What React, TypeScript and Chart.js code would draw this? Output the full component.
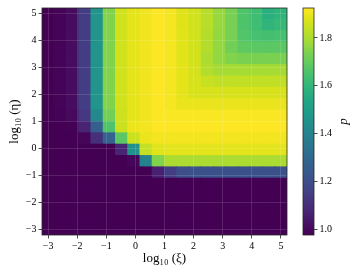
import React, { useEffect, useRef } from 'react';
import { Chart, registerables } from 'chart.js';

Chart.register(...registerables);

// ---- data ----
const xCenters = [-3, -2.579, -2.158, -1.737, -1.316, -0.895, -0.474, -0.053, 0.368, 0.789, 1.211, 1.632, 2.053, 2.474, 2.895, 3.316, 3.737, 4.158, 4.579, 5];
const yCenters = [-3, -2.579, -2.158, -1.737, -1.316, -0.895, -0.474, -0.053, 0.368, 0.789, 1.211, 1.632, 2.053, 2.474, 2.895, 3.316, 3.737, 4.158, 4.579, 5];
const halfCell = 0.2105;
const xTicks = [-3, -2, -1, 0, 1, 2, 3, 4, 5];
const yTicks = [-3, -2, -1, 0, 1, 2, 3, 4, 5];
const colorbarTicks = [1.0, 1.2, 1.4, 1.6, 1.8];
const pMin = 0.976;
const pMax = 1.925;

// rows from eta = -3 (bottom) to eta = 5 (top); columns xi = -3 .. 5
const row00 = [0.976, 0.976, 0.976, 0.976, 0.976, 0.976, 0.976, 0.976, 0.976, 0.976, 0.976, 0.976, 0.976, 0.976, 0.976, 0.976, 0.976, 0.976, 0.976, 0.976];
const row01 = [0.976, 0.976, 0.976, 0.976, 0.976, 0.976, 0.976, 0.976, 0.976, 0.976, 0.976, 0.976, 0.976, 0.976, 0.976, 0.976, 0.976, 0.976, 0.976, 0.976];
const row02 = [0.976, 0.976, 0.976, 0.976, 0.976, 0.976, 0.976, 0.976, 0.976, 0.976, 0.976, 0.976, 0.976, 0.976, 0.976, 0.976, 0.976, 0.976, 0.976, 0.976];
const row03 = [0.976, 0.976, 0.976, 0.976, 0.976, 0.976, 0.976, 0.976, 0.976, 0.976, 0.976, 0.976, 0.976, 0.976, 0.976, 0.976, 0.976, 0.976, 0.976, 0.976];
const row04 = [0.976, 0.976, 0.976, 0.976, 0.976, 0.976, 0.976, 0.976, 0.976, 0.976, 0.976, 0.976, 0.976, 0.976, 0.976, 0.976, 0.976, 0.976, 0.976, 0.976];
const row05 = [0.976, 0.976, 0.976, 0.976, 0.976, 0.976, 0.976, 0.976, 0.976, 1.06, 1.15, 1.2, 1.21, 1.21, 1.21, 1.21, 1.21, 1.21, 1.21, 1.21];
const row06 = [0.976, 0.976, 0.976, 0.976, 0.976, 0.976, 0.976, 0.99, 1.4, 1.745, 1.8, 1.8, 1.8, 1.8, 1.8, 1.8, 1.8, 1.8, 1.8, 1.8];
const row07 = [0.976, 0.976, 0.976, 0.976, 0.976, 0.976, 1.07, 1.45, 1.84, 1.885, 1.887, 1.887, 1.887, 1.887, 1.887, 1.887, 1.887, 1.887, 1.887, 1.887];
const row08 = [0.976, 0.976, 0.976, 0.99, 1.11, 1.27, 1.68, 1.85, 1.9, 1.91, 1.91, 1.91, 1.91, 1.91, 1.91, 1.91, 1.91, 1.91, 1.91, 1.91];
const row09 = [0.976, 0.976, 0.98, 1.07, 1.26, 1.66, 1.85, 1.9, 1.91, 1.925, 1.925, 1.925, 1.925, 1.925, 1.925, 1.925, 1.925, 1.925, 1.925, 1.925];
const row10 = [0.976, 0.982, 1.0, 1.13, 1.42, 1.72, 1.855, 1.89, 1.905, 1.925, 1.92, 1.92, 1.92, 1.92, 1.92, 1.92, 1.92, 1.92, 1.92, 1.92];
const row11 = [0.976, 0.985, 1.01, 1.15, 1.46, 1.745, 1.86, 1.89, 1.905, 1.925, 1.915, 1.895, 1.895, 1.895, 1.895, 1.895, 1.895, 1.895, 1.895, 1.895];
const row12 = [0.976, 0.985, 1.01, 1.15, 1.46, 1.745, 1.86, 1.89, 1.905, 1.925, 1.915, 1.89, 1.868, 1.868, 1.868, 1.868, 1.868, 1.868, 1.868, 1.868];
const row13 = [0.976, 0.985, 1.01, 1.15, 1.46, 1.745, 1.86, 1.89, 1.905, 1.925, 1.915, 1.89, 1.865, 1.845, 1.835, 1.835, 1.835, 1.835, 1.835, 1.835];
const row14 = [0.976, 0.985, 1.01, 1.15, 1.46, 1.745, 1.86, 1.89, 1.905, 1.925, 1.915, 1.89, 1.862, 1.81, 1.79, 1.79, 1.79, 1.79, 1.79, 1.79];
const row15 = [0.976, 0.985, 1.01, 1.15, 1.46, 1.745, 1.86, 1.89, 1.905, 1.925, 1.915, 1.885, 1.86, 1.8, 1.765, 1.745, 1.735, 1.735, 1.735, 1.735];
const row16 = [0.976, 0.985, 1.01, 1.15, 1.46, 1.745, 1.86, 1.89, 1.905, 1.925, 1.915, 1.885, 1.86, 1.81, 1.765, 1.72, 1.69, 1.685, 1.68, 1.685];
const row17 = [0.976, 0.985, 1.01, 1.15, 1.46, 1.745, 1.86, 1.89, 1.905, 1.925, 1.915, 1.885, 1.858, 1.815, 1.765, 1.73, 1.665, 1.645, 1.64, 1.645];
const row18 = [0.976, 0.985, 1.01, 1.15, 1.46, 1.745, 1.86, 1.89, 1.905, 1.925, 1.915, 1.882, 1.858, 1.82, 1.77, 1.73, 1.66, 1.63, 1.595, 1.61];
const row19 = [0.976, 0.985, 1.01, 1.15, 1.46, 1.745, 1.86, 1.89, 1.905, 1.925, 1.915, 1.882, 1.858, 1.82, 1.77, 1.73, 1.66, 1.63, 1.575, 1.595];

const pRows = [row00, row01, row02, row03, row04, row05, row06, row07, row08, row09, row10, row11, row12, row13, row14, row15, row16, row17, row18, row19];

// ---- colormap (viridis) ----
const viridisStops = ['#440154', '#471164', '#482475', '#46337e', '#414487', '#3b528b', '#355f8d', '#2f6b8e', '#2a788e', '#25848e', '#21918c', '#1f9e89', '#22a884', '#2fb47c', '#44bf70', '#5ec962', '#7ad151', '#a2da37', '#bddf26', '#dde318', '#fde725'];

function hexToRgb(h: string) {
  return [parseInt(h.slice(1, 3), 16), parseInt(h.slice(3, 5), 16), parseInt(h.slice(5, 7), 16)];
}

function viridis(t: number) {
  const c = Math.max(0, Math.min(1, t)) * (viridisStops.length - 1);
  const i = Math.min(viridisStops.length - 2, Math.floor(c));
  const f = c - i;
  const a = hexToRgb(viridisStops[i]);
  const b = hexToRgb(viridisStops[i + 1]);
  const r = Math.round(a[0] + (b[0] - a[0]) * f);
  const g = Math.round(a[1] + (b[1] - a[1]) * f);
  const bl = Math.round(a[2] + (b[2] - a[2]) * f);
  return `rgb(${r},${g},${bl})`;
}

function colorFor(v: number) {
  return viridis((v - pMin) / (pMax - pMin));
}

const serif = "'Liberation Serif', 'DejaVu Serif', serif";
const fmtTick = (v: number) => (v < 0 ? '\u2212' + Math.abs(v) : String(v));

const framePlugin = {
  id: 'frame',
  afterDraw(chart: any) {
    const { ctx, chartArea } = chart;
    ctx.save();
    ctx.strokeStyle = '#262626';
    ctx.lineWidth = 0.8;
    ctx.strokeRect(chartArea.left, chartArea.top, chartArea.right - chartArea.left, chartArea.bottom - chartArea.top);
    ctx.restore();
  },
};

const colorbarPlugin = {
  id: 'colorbarFill',
  beforeDatasetsDraw(chart: any) {
    const { ctx, chartArea, scales } = chart;
    const y = scales.y;
    const g = ctx.createLinearGradient(0, y.getPixelForValue(pMin), 0, y.getPixelForValue(pMax));
    viridisStops.forEach((c, i) => g.addColorStop(i / (viridisStops.length - 1), c));
    ctx.save();
    ctx.fillStyle = g;
    ctx.fillRect(chartArea.left, chartArea.top, chartArea.right - chartArea.left, chartArea.bottom - chartArea.top);
    ctx.restore();
  },
  afterDraw(chart: any) {
    const { ctx, chartArea } = chart;
    ctx.save();
    ctx.strokeStyle = '#262626';
    ctx.lineWidth = 0.8;
    ctx.strokeRect(chartArea.left, chartArea.top, chartArea.right - chartArea.left, chartArea.bottom - chartArea.top);
    ctx.translate(chartArea.right + 30, (chartArea.top + chartArea.bottom) / 2);
    ctx.rotate(-Math.PI / 2);
    ctx.fillStyle = '#000';
    ctx.font = `italic 13px ${serif}`;
    ctx.textAlign = 'center';
    ctx.textBaseline = 'middle';
    ctx.fillText('p', 0, 0);
    ctx.restore();
  },
};

export default function App() {
  const mainRef = useRef<HTMLCanvasElement>(null);
  const cbRef = useRef<HTMLCanvasElement>(null);

  useEffect(() => {
    const xMin = xCenters[0] - halfCell;
    const xMax = xCenters[xCenters.length - 1] + halfCell;
    const yMin = yCenters[0] - halfCell;
    const yMax = yCenters[yCenters.length - 1] + halfCell;

    const main = new Chart(mainRef.current as HTMLCanvasElement, {
      type: 'bar',
      data: {
        datasets: pRows.map((row, j) => ({
          label: 'eta ' + yCenters[j],
          data: row.map((v, i) => ({ x: xCenters[i], y: [yCenters[j] - halfCell, yCenters[j] + halfCell], p: v })),
          backgroundColor: row.map(colorFor),
          borderWidth: 0,
          grouped: false,
          barPercentage: 1,
          categoryPercentage: 1,
          inflateAmount: 0.5,
        })) as any,
      },
      options: {
        responsive: false,
        animation: false,
        devicePixelRatio: 1,
        events: [],
        layout: { padding: { left: 0, right: 5, top: 6, bottom: 0 } },
        plugins: { legend: { display: false }, tooltip: { enabled: false } },
        scales: {
          x: {
            type: 'linear',
            min: xMin,
            max: xMax,
            offset: false,
            afterBuildTicks: (s: any) => {
              s.ticks = xTicks.map((v) => ({ value: v }));
            },
            afterFit: (s: any) => {
              s.height = 38;
            },
            grid: { z: 1, offset: false, color: 'rgba(255,255,255,0.16)', lineWidth: 0.8, tickColor: '#222', tickLength: 3.5 },
            border: { display: false },
            ticks: { color: '#000', font: { family: serif, size: 10 }, padding: 2, maxRotation: 0, callback: (v: any) => fmtTick(Number(v)) },
            title: { display: true, text: 'log\u2081\u2080 (\u03be)', color: '#000', font: { family: serif, size: 13 }, padding: { top: 0, bottom: 7 } },
          },
          y: {
            type: 'linear',
            min: yMin,
            max: yMax,
            afterBuildTicks: (s: any) => {
              s.ticks = yTicks.map((v) => ({ value: v }));
            },
            afterFit: (s: any) => {
              s.width = 42;
            },
            grid: { z: 1, color: 'rgba(255,255,255,0.16)', lineWidth: 0.8, tickColor: '#222', tickLength: 3.5 },
            border: { display: false },
            ticks: { color: '#000', font: { family: serif, size: 10 }, padding: 2, callback: (v: any) => fmtTick(Number(v)) },
            title: { display: true, text: 'log\u2081\u2080 (\u03b7)', color: '#000', font: { family: serif, size: 13 }, padding: { top: 7, bottom: 0 } },
          },
        },
      } as any,
      plugins: [framePlugin],
    });

    const cb = new Chart(cbRef.current as HTMLCanvasElement, {
      type: 'bar',
      data: { labels: [''], datasets: [] },
      options: {
        responsive: false,
        animation: false,
        devicePixelRatio: 1,
        events: [],
        layout: { padding: { left: 11, right: 0, top: 6, bottom: 38 } },
        plugins: { legend: { display: false }, tooltip: { enabled: false } },
        scales: {
          x: { display: false },
          y: {
            type: 'linear',
            position: 'right',
            min: pMin,
            max: pMax,
            afterBuildTicks: (s: any) => {
              s.ticks = colorbarTicks.map((v) => ({ value: v }));
            },
            afterFit: (s: any) => {
              s.width = 43;
            },
            grid: { drawOnChartArea: false, tickLength: 3.5, tickColor: '#222', lineWidth: 0.8 },
            border: { display: false },
            ticks: { color: '#000', font: { family: serif, size: 10 }, padding: 2, callback: (v: any) => Number(v).toFixed(1) },
          },
        },
      } as any,
      plugins: [colorbarPlugin],
    });

    return () => {
      main.destroy();
      cb.destroy();
    };
  }, []);

  return (
    <div style={{ position: 'fixed', left: 0, top: 0, width: 357, height: 273, background: '#fff' }}>
      <canvas ref={mainRef} width={292} height={273} style={{ position: 'absolute', left: 0, top: 0, width: 292, height: 273 }} />
      <canvas ref={cbRef} width={65} height={273} style={{ position: 'absolute', left: 292, top: 0, width: 65, height: 273 }} />
    </div>
  );
}
